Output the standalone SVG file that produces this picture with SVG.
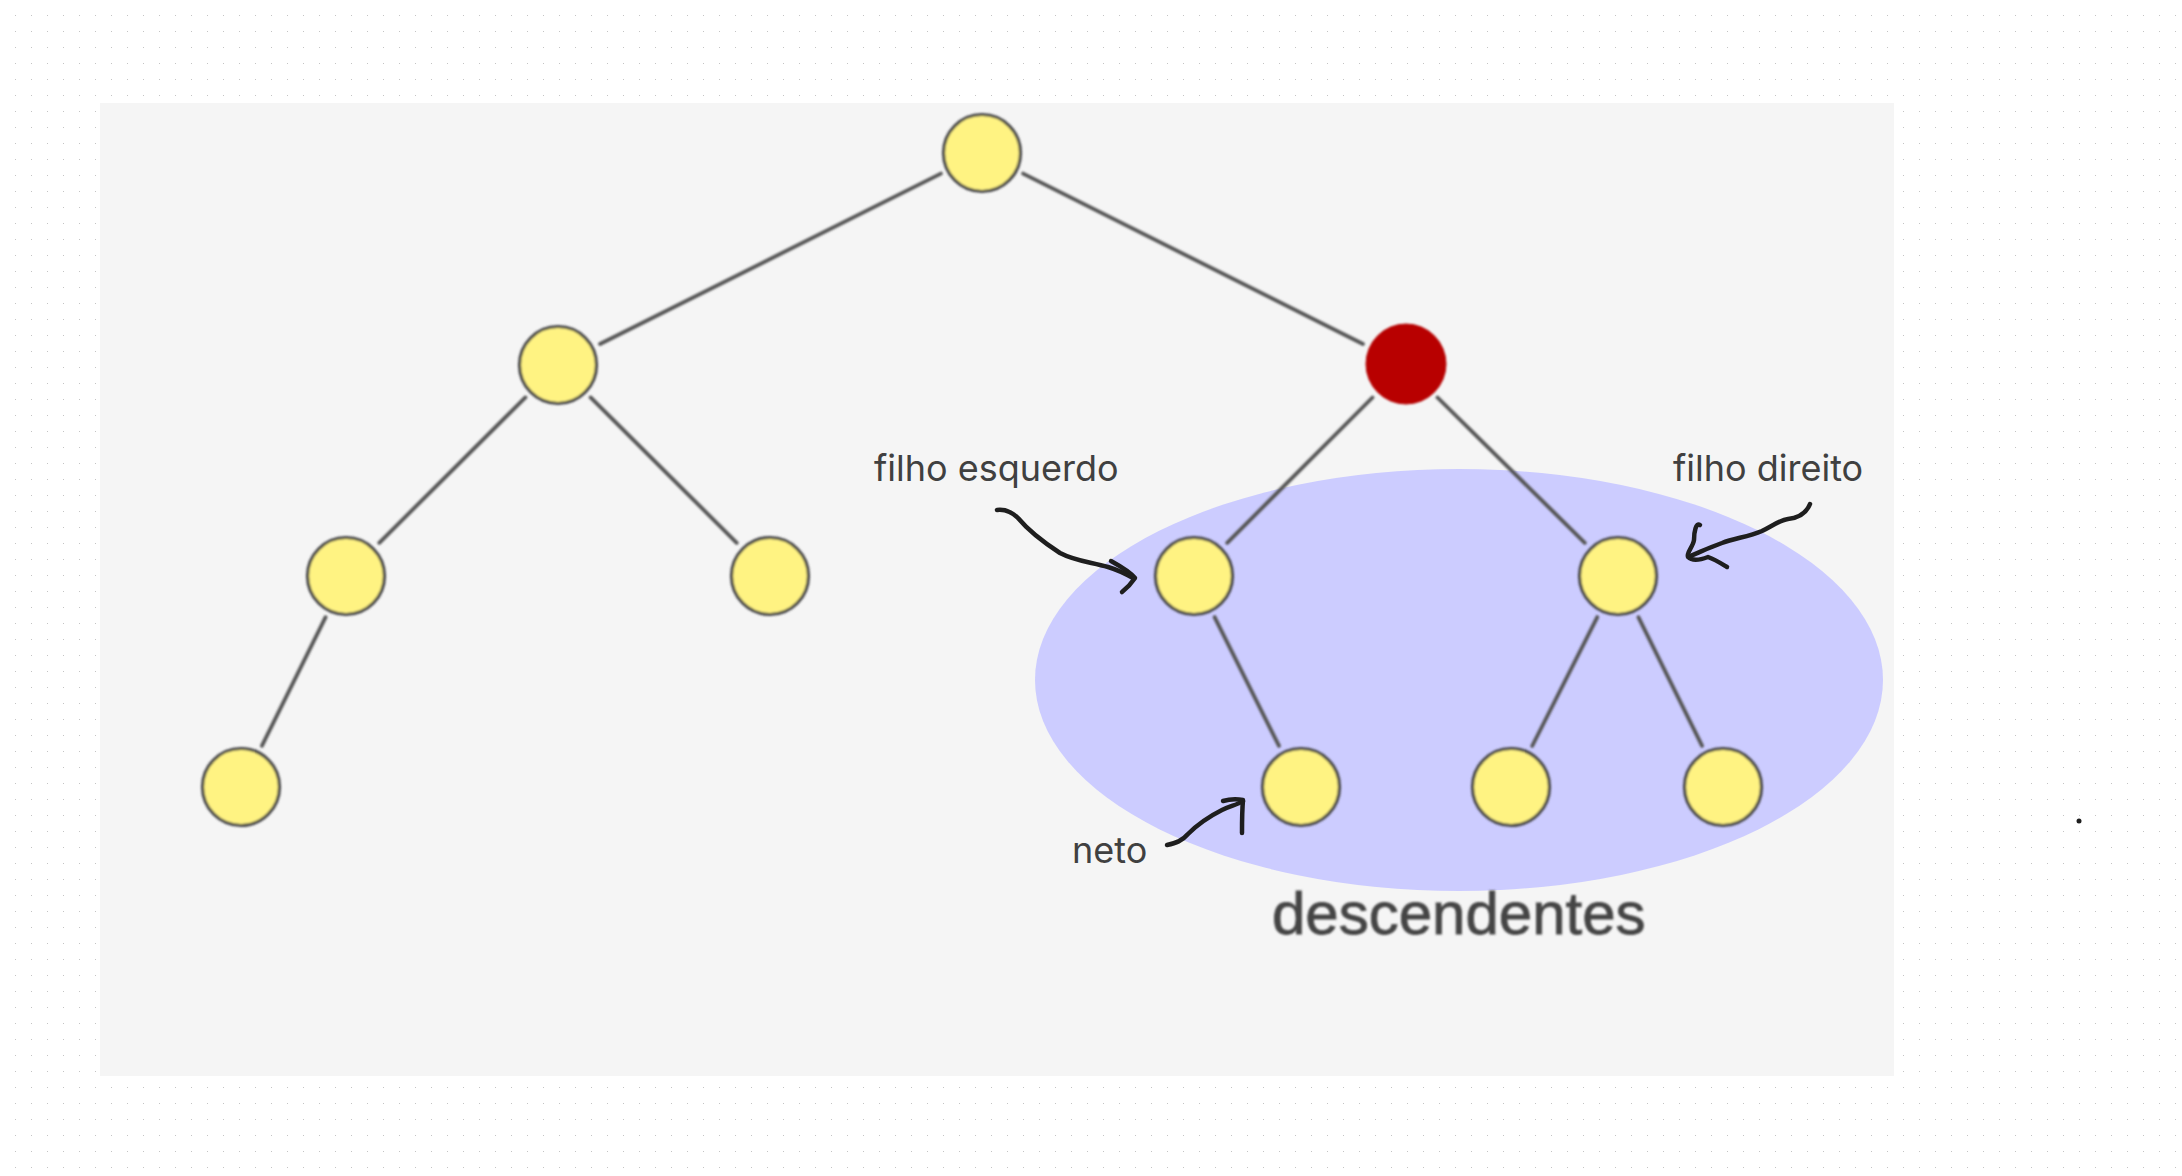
<svg xmlns="http://www.w3.org/2000/svg" width="2182" height="1176" viewBox="0 0 2182 1176">
<defs>
<pattern id="dots" width="16" height="16" patternUnits="userSpaceOnUse">
<rect x="15" y="15" width="2" height="2" fill="#c4c4c4"/>
</pattern>
<filter id="soft" x="-5%" y="-5%" width="110%" height="110%"><feGaussianBlur stdDeviation="0.8"/></filter>
<style>
.node{fill:#fff382;stroke:#484848;stroke-width:3.2}
.red{fill:#b80000;stroke:#b30000;stroke-width:1}
.edge{stroke:#555;stroke-width:3.8;stroke-linecap:round;fill:none}
.ink{stroke:#1e1e1e;stroke-width:4.5;stroke-linecap:round;stroke-linejoin:round;fill:none}
.lbl{font-family:Inter,"Noto Sans",sans-serif;font-size:36px;fill:#404040}
.big{font-family:"Liberation Sans",Arial,sans-serif;font-size:60px;fill:#444;stroke:#444;stroke-width:0.8}
</style>
</defs>
<rect width="2182" height="1176" fill="#ffffff"/>
<rect width="2182" height="1176" fill="url(#dots)"/>
<rect x="100" y="103" width="1794" height="973" fill="#f5f5f5"/>
<ellipse id="descendentes-area" cx="1459" cy="680" rx="424" ry="211" fill="#ccccff"/>
<g id="connectors" class="edge" filter="url(#soft)">
<line x1="940.9" y1="173.6" x2="600" y2="344"/>
<line x1="1023.1" y1="173.6" x2="1363" y2="344"/>
<line x1="525.4" y1="397.4" x2="379.3" y2="542.8"/>
<line x1="590.6" y1="397.4" x2="736.7" y2="542.8"/>
<line x1="1372.5" y1="397.5" x2="1227.2" y2="542.8"/>
<line x1="1437.5" y1="397.5" x2="1584.8" y2="542.8"/>
<line x1="325.6" y1="617.2" x2="261.9" y2="745.9"/>
<line x1="1214.6" y1="617.1" x2="1279" y2="745.9"/>
<line x1="1597.3" y1="617.1" x2="1532.2" y2="746"/>
<line x1="1638.4" y1="617.2" x2="1702.1" y2="745.9"/>
</g>
<g filter="url(#soft)">
<g id="n-root"><circle class="node" cx="982" cy="153" r="38.5"/></g>
<g id="n-l"><circle class="node" cx="558" cy="365" r="38.5"/></g>
<g id="n-r"><circle class="red" cx="1406" cy="364" r="40"/></g>
<g id="n-ll"><circle class="node" cx="346" cy="576" r="38.5"/></g>
<g id="n-lr"><circle class="node" cx="770" cy="576" r="38.5"/></g>
<g id="n-rl"><circle class="node" cx="1194" cy="576" r="38.5"/></g>
<g id="n-rr"><circle class="node" cx="1618" cy="576" r="38.5"/></g>
<g id="n-lll"><circle class="node" cx="241" cy="787" r="38.5"/></g>
<g id="n-rlr"><circle class="node" cx="1301" cy="787" r="38.5"/></g>
<g id="n-rrl"><circle class="node" cx="1511" cy="787" r="38.5"/></g>
<g id="n-rrr"><circle class="node" cx="1723" cy="787" r="38.5"/></g>
<text class="big" x="1272" y="934">descendentes</text>
</g>
<g id="annotations">
<text class="lbl" x="874" y="481">filho esquerdo</text>
<text class="lbl" x="1673" y="481">filho direito</text>
<text class="lbl" x="1072" y="863">neto</text>
<path class="ink" d="M997,510 C1006,509 1012,512 1018,518 C1028,530 1040,540 1060,553 C1075,561 1090,562 1108,567 C1118,570 1126,574 1133,578"/>
<path class="ink" d="M1111,561 C1120,566 1130,572 1135,578 C1131,584 1127,588 1122,592"/>
<path class="ink" d="M1810,504 C1806,514 1798,518 1788,519 C1780,520 1772,526 1762,531 C1748,537 1735,538 1722,543 C1708,548 1698,553 1690,556"/>
<path class="ink" d="M1700,525 C1696,522 1694,532 1694,540 C1693,547 1686,553 1688,557 C1692,561 1700,560 1708,557 C1716,560 1722,564 1727,567"/>
<path class="ink" d="M1167,845 C1176,843 1182,841 1188,834 C1198,824 1208,817 1222,810 C1230,806 1237,805 1243,801"/>
<path class="ink" d="M1223,801 C1230,799 1237,799 1243,800 C1242,811 1242,822 1242,833"/>
<circle cx="2079" cy="821" r="2.5" fill="#1e1e1e"/>
</g>
</svg>
